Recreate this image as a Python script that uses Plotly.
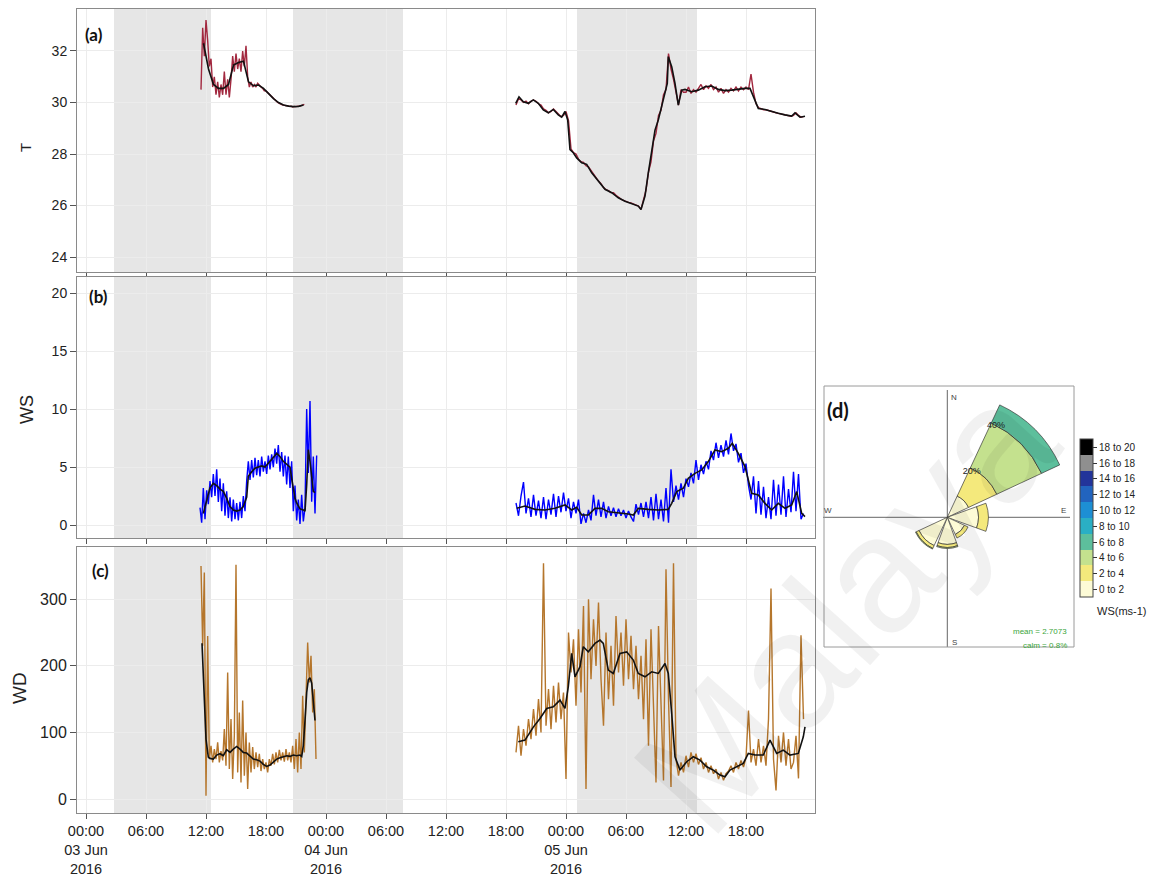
import numpy as np
import pandas as pd
import plotly.graph_objects as go

# ---------------------------------------------------------------------------
# Data (time in hours from 03 Jun 2016 00:00)
# ---------------------------------------------------------------------------
BASE = pd.Timestamp("2016-06-03 00:00")

# Temperature, first record: 10-min samples starting 11.5 h
T1_START, T1_STEP = 11.5, 1 / 6
T1_RAW = [
    30.5, 32.9, 31.8, 33.2, 32.4, 31.4, 31.7, 30.6, 31.0, 30.3, 30.8, 30.2,
    30.7, 30.3, 31.2, 30.3, 30.9, 30.2, 30.9, 31.8, 31.2, 31.9, 31.3, 31.7,
    31.2, 32.0, 31.4, 32.2, 31.0, 30.6, 30.8, 30.6, 30.7, 30.6, 30.75, 30.65,
    30.6, 30.55, 30.45, 30.45, 30.38, 30.32, 30.25, 30.2, 30.12, 30.05, 30.0, 29.97,
    29.93, 29.9, 29.9, 29.87, 29.88, 29.85, 29.86, 29.83, 29.85, 29.84, 29.86, 29.85,
    29.88, 29.9, 29.93,
]
T1_SMOOTH_H = [11.75, 12.25, 12.75, 13.25, 13.75, 14.25, 14.75, 15.25, 15.75, 16.25,
               16.75, 17.25, 17.75, 18.25, 18.75, 19.25, 19.75, 20.25, 20.75, 21.25, 21.75]
T1_SMOOTH = [32.3, 31.3, 30.7, 30.55, 30.55, 30.7, 31.45, 31.55, 31.6, 30.8,
             30.65, 30.68, 30.55, 30.35, 30.15, 30.0, 29.9, 29.86, 29.84, 29.85, 29.9]

# Temperature, second record: 15-min samples starting 43 h (one row per hour)
T2_START, T2_STEP = 43.0, 0.25
T2_RAW = [
    29.9, 30.15, 30.1, 30.0,
    30.05, 29.95, 30.05, 30.1,
    30.05, 29.95, 29.9, 29.75,
    29.7, 29.6, 29.65, 29.75,
    29.65, 29.55, 29.45, 29.5,
    29.65, 29.3, 28.2, 28.05,
    28.0, 27.8, 27.7, 27.68,
    27.55, 27.5, 27.35, 27.25,
    27.1, 26.95, 26.85, 26.7,
    26.62, 26.58, 26.5, 26.5,
    26.4, 26.32, 26.25, 26.2,
    26.15, 26.12, 26.1, 26.05,
    26.02, 25.98, 25.85, 26.2,
    26.6, 27.3, 27.7, 28.5,
    28.8, 29.5, 29.7, 30.3,
    30.5, 31.9, 31.3, 30.9,
    30.4, 29.9, 30.5, 30.4,
    30.4, 30.6, 30.35, 30.5,
    30.4, 30.55, 30.7, 30.5,
    30.65, 30.55, 30.7, 30.5,
    30.6, 30.4, 30.55, 30.35,
    30.5, 30.4, 30.55, 30.45,
    30.6, 30.45, 30.6, 30.5,
    30.6, 30.5, 31.1, 30.4,
    29.95, 29.8, 29.75, 29.72,
    29.72, 29.68, 29.65, 29.63,
    29.6, 29.58, 29.55, 29.54,
    29.52, 29.5, 29.47, 29.5,
    29.6, 29.5, 29.43, 29.45,
]
T2_SMOOTH_H = [42.97, 43.3, 43.73, 44.23, 44.73, 45.23, 45.73, 46.23, 46.73, 47.23,
               47.57, 47.9, 48.17, 48.4, 48.73, 49.07, 49.57, 50.07, 50.57, 51.23,
               51.9, 52.57, 53.23, 53.9, 54.57, 55.23, 55.5, 55.9, 56.23, 56.57,
               56.9, 57.23, 57.57, 57.9, 58.13, 58.23, 58.57, 58.9, 59.23, 59.57,
               59.9, 60.57, 61.23, 61.9, 62.57, 63.23, 63.9, 64.57, 65.23, 65.9,
               66.4, 66.73, 67.23, 67.9, 68.57, 69.23, 69.9, 70.57, 70.9, 71.4, 71.9]
T2_SMOOTH = [29.97, 30.22, 30.03, 29.97, 30.1, 29.97, 29.71, 29.6, 29.73, 29.52,
             29.43, 29.65, 29.32, 28.17, 28.05, 27.85, 27.66, 27.6, 27.27, 26.95,
             26.63, 26.5, 26.3, 26.17, 26.08, 25.98, 25.85, 26.37, 27.27, 28.17,
             28.93, 29.32, 29.84, 30.35, 30.74, 31.78, 31.39, 30.74, 29.9, 30.48,
             30.51, 30.42, 30.48, 30.61, 30.64, 30.51, 30.46, 30.48, 30.52, 30.55,
             30.55, 30.22, 29.77, 29.73, 29.64, 29.58, 29.52, 29.47, 29.6, 29.43, 29.47]

# Wind speed, first record: 10-min samples starting 11.4 h
WS1_START, WS1_STEP = 11.4, 1 / 6
WS1_RAW = [
    1.5, 0.2, 3.2, 0.5, 3.0, 1.8, 3.8, 2.4, 4.4, 2.5, 4.8, 2.0,
    4.0, 1.2, 3.6, 0.8, 2.9, 0.6, 2.4, 0.3, 2.2, 0.5, 1.9, 0.4,
    2.0, 0.6, 2.5, 1.2, 3.8, 5.5, 3.9, 5.6, 4.1, 5.8, 4.3, 5.6,
    4.2, 5.9, 4.6, 5.5, 4.4, 6.0, 4.8, 6.1, 5.0, 6.6, 5.3, 6.9,
    4.6, 6.3, 4.2, 6.0, 3.5, 5.9, 3.2, 5.5, 1.2, 3.4, 0.4, 2.2,
    0.1, 2.6, 0.3, 1.5, 10.0, 4.5, 10.7, 2.0, 5.9, 1.0, 6.0,
]
WS1_SMOOTH_H = [11.73, 12.07, 12.4, 12.73, 13.07, 13.4, 13.73, 14.07, 14.4, 14.73,
                15.07, 15.4, 15.73, 16.07, 16.23, 16.57, 16.9, 17.23, 17.57, 17.9,
                18.23, 18.57, 18.9, 19.07, 19.4, 19.73, 20.07, 20.4, 20.57, 20.73,
                20.9, 21.07, 21.4, 21.73, 21.9, 22.07, 22.23, 22.4, 22.57, 22.73, 22.9]
WS1_SMOOTH = [1.0, 2.2, 3.2, 3.6, 3.4, 3.1, 2.9, 2.3, 1.6, 1.3,
              1.2, 1.3, 1.6, 2.4, 4.2, 4.6, 4.9, 5.0, 5.1, 5.0,
              5.3, 5.7, 6.0, 6.2, 5.9, 5.5, 5.2, 5.0, 4.0, 3.2,
              2.3, 1.9, 1.4, 1.3, 1.2, 3.5, 6.5, 5.5, 4.0, 2.9, 2.8]

# Wind speed, second record: 15-min samples starting 43 h (one row per hour)
WS2_START, WS2_STEP = 43.0, 0.25
WS2_RAW = [
    1.9, 0.8, 2.5, 3.7,
    1.0, 2.3, 0.7, 2.6,
    0.8, 2.1, 0.6, 2.4,
    0.5, 2.2, 0.9, 2.7,
    0.7, 2.5, 1.1, 2.8,
    1.2, 2.3, 0.6, 2.0,
    1.0, 2.2, 0.1, 1.0,
    0.2, 1.3, 0.4, 2.6,
    0.8, 2.2, 0.7, 2.0,
    0.6, 1.6, 0.8, 1.5,
    0.7, 1.4, 0.8, 1.3,
    0.6, 1.2, 0.7, 0.3,
    1.8, 0.9, 1.9, 0.7,
    2.0, 0.6, 2.4, 0.4,
    2.7, 0.5, 2.2, 0.3,
    3.2, 0.2, 4.8, 2.0,
    3.4, 2.2, 3.6, 2.4,
    4.0, 3.3, 4.5, 3.6,
    5.6, 3.9, 5.2, 4.4,
    5.5, 4.8, 6.4, 5.6,
    7.1, 5.8, 6.9, 5.9,
    7.3, 6.1, 7.9, 6.4,
    7.0, 5.4, 6.2, 4.5,
    5.3, 3.4, 2.2, 4.2,
    1.0, 3.8, 0.9, 3.3,
    0.6, 2.4, 0.5, 3.9,
    0.8, 3.5, 0.9, 4.2,
    0.7, 3.1, 1.1, 4.6,
    1.2, 4.4, 0.5, 1.0,
]
WS2_SMOOTH_H = [43.07, 43.9, 44.9, 45.9, 46.9, 47.9, 48.57, 49.07, 49.57, 50.23,
                50.9, 51.57, 52.23, 53.23, 54.23, 54.73, 55.23, 56.23, 57.23, 58.23,
                58.57, 59.07, 59.73, 60.23, 60.9, 61.57, 62.23, 62.9, 63.57, 64.23,
                64.63, 65.23, 65.9, 66.57, 67.23, 67.9, 68.57, 69.23, 69.9, 70.57,
                71.07, 71.57, 71.9]
WS2_SMOOTH = [1.44, 1.64, 1.35, 1.3, 1.44, 1.73, 1.3, 1.53, 0.86, 0.86,
              1.44, 1.44, 1.15, 1.07, 0.95, 0.86, 1.44, 1.35, 1.3, 1.35,
              1.87, 2.88, 3.17, 4.03, 4.46, 4.75, 5.47, 6.48, 6.33, 6.62,
              7.05, 6.19, 5.04, 2.73, 2.59, 1.87, 1.3, 1.87, 1.44, 1.73,
              2.88, 1.0, 0.72]

# Wind direction, first record: 10-min samples starting 11.5 h
WD1_START, WD1_STEP = 11.5, 1 / 6
WD1_RAW = [
    350, 230, 340, 5, 245, 60, 80, 55, 75, 60, 85, 55,
    72, 58, 105, 50, 190, 45, 120, 30, 95, 352, 40, 130,
    25, 148, 35, 100, 15, 85, 40, 78, 45, 70, 48, 68,
    42, 60, 45, 55, 40, 60, 50, 68, 52, 70, 55, 74,
    58, 70, 56, 75, 58, 70, 55, 80, 45, 90, 40, 100,
    45, 155, 70, 140, 235, 175, 215, 130, 165, 60,
]
WD1_SMOOTH_H = [11.6, 11.83, 12.0, 12.23, 12.4, 12.73, 13.07, 13.4, 13.73, 14.07,
                14.4, 14.73, 15.07, 15.4, 15.73, 16.07, 16.4, 16.73, 17.07, 17.4,
                17.73, 18.07, 18.4, 18.73, 19.07, 19.4, 19.73, 20.07, 20.4, 20.73,
                21.07, 21.4, 21.57, 21.73, 21.9, 22.07, 22.23, 22.4, 22.57, 22.73, 22.9]
WD1_SMOOTH = [234, 150, 90, 63, 61, 60, 66, 68, 65, 74,
              70, 75, 79, 75, 70, 69, 64, 60, 59, 57,
              52, 49, 51, 56, 60, 62, 64, 65, 64, 66,
              65, 66, 64, 80, 118, 160, 179, 182, 174, 145, 118]

# Wind direction, second record: 15-min samples starting 43 h (one row per hour)
WD2_START, WD2_STEP = 43.0, 0.25
WD2_RAW = [
    70, 110, 65, 105,
    80, 120, 90, 135,
    95, 150, 100, 354,
    110, 165, 105, 170,
    115, 175, 120, 160,
    30, 250, 190, 240,
    140, 255, 160, 290,
    15, 300, 180, 270,
    200, 295, 180, 110,
    250, 150, 230, 140,
    275, 190, 250, 170,
    270, 180, 245, 165,
    230, 150, 215, 120,
    240, 80, 255, 120,
    25, 260, 130, 28,
    345, 150, 18, 354,
    60, 35, 55, 40,
    65, 48, 70, 55,
    68, 52, 62, 45,
    55, 40, 50, 38,
    45, 30, 40, 28,
    38, 42, 50, 40,
    55, 45, 58, 48,
    62, 133, 55, 75,
    50, 90, 55, 80,
    50, 120, 316, 60,
    13, 95, 55, 100,
    50, 90, 45, 55,
    95, 31, 246, 120,
]
WD2_SMOOTH_H = [43.23, 43.9, 44.73, 45.4, 46.07, 46.73, 47.4, 47.9, 48.23, 48.57,
                48.9, 49.4, 49.73, 50.23, 50.9, 51.4, 51.73, 52.23, 52.73, 53.4,
                54.07, 54.73, 55.23, 55.9, 56.57, 57.23, 57.9, 58.23, 58.57, 58.9,
                59.4, 60.07, 60.73, 61.4, 62.07, 62.73, 63.4, 63.9, 64.4, 65.07,
                65.73, 66.23, 66.9, 67.73, 68.4, 69.07, 69.73, 70.4, 71.23, 71.73, 71.9]
WD2_SMOOTH = [86, 88.5, 108, 121, 136, 138.5, 148.6, 136, 168.6, 218.7,
              183.6, 198.7, 228.7, 221, 233.7, 238.7, 233.7, 193.6, 188.6, 218.7,
              221, 208.7, 188.6, 183.6, 191, 188.6, 203.6, 188.6, 128.5, 63.4,
              43.4, 56, 63.4, 58.4, 48.4, 43.4, 35.9, 33.4, 43.4, 48.4,
              53.4, 68.5, 66, 66, 88.5, 68.5, 73.5, 66, 68.5, 93.5, 108.5]

# Shaded periods (hours)
SHADE_START = [2.8, 20.7, 49.1]
SHADE_END = [12.5, 31.7, 61.1]

# Wind rose: frequency (%) by direction and speed band
ROSE_DIRS = [45, 90, 135, 180, 225]
ROSE_BANDS = {
    "0 to 2": [9.0, 12.0, 7.3, 10.4, 12.0],
    "2 to 4": [12.0, 3.8, 1.5, 1.2, 1.2],
    "4 to 6": [19.0, 0.0, 0.0, 0.4, 0.3],
    "6 to 8": [7.7, 0.0, 0.0, 0.0, 0.0],
}
WS_CLASSES = ["0 to 2", "2 to 4", "4 to 6", "6 to 8", "8 to 10",
              "10 to 12", "12 to 14", "14 to 16", "16 to 18", "18 to 20"]
WS_CLASS_MID = [1, 3, 5, 7, 9, 11, 13, 15, 17, 19]
WS_COLOURS = ["#fdfbd6", "#f4e97c", "#c4e18e", "#5dbf9c", "#2aafc4",
              "#1d8fd4", "#2264bf", "#23349a", "#8f8f8f", "#000000"]

TICK_H = [0, 6, 12, 18, 24, 30, 36, 42, 48, 54, 60, 66]
TICK_TEXT = ["00:00<br>03 Jun<br>2016", "06:00", "12:00", "18:00",
             "00:00<br>04 Jun<br>2016", "06:00", "12:00", "18:00",
             "00:00<br>05 Jun<br>2016", "06:00", "12:00", "18:00"]

# ---------------------------------------------------------------------------
# Helpers
# ---------------------------------------------------------------------------
W, H = 1154, 877
FONT = "Liberation Sans"


def px(x):
    return x / W


def py(y):
    return 1 - y / H


def hours_to_time(h):
    return BASE + pd.to_timedelta(np.asarray(h, dtype=float), unit="h")


def regular_times(start, step, n):
    return hours_to_time(start + step * np.arange(n))


fig = go.Figure()


def add_pair(raw_start, raw_step, raw, sm_h, sm, colour, xa, ya):
    fig.add_trace(go.Scatter(
        x=regular_times(raw_start, raw_step, len(raw)), y=raw, mode="lines",
        line=dict(color=colour, width=1.4), xaxis=xa, yaxis=ya, showlegend=False,
        hoverinfo="skip"))
    fig.add_trace(go.Scatter(
        x=hours_to_time(sm_h), y=sm, mode="lines",
        line=dict(color="#111111", width=1.6), xaxis=xa, yaxis=ya,
        showlegend=False, hoverinfo="skip"))


RED, BLUE, BROWN = "#a2283f", "#0000ff", "#b5762c"
add_pair(T1_START, T1_STEP, T1_RAW, T1_SMOOTH_H, T1_SMOOTH, RED, "x", "y")
add_pair(T2_START, T2_STEP, T2_RAW, T2_SMOOTH_H, T2_SMOOTH, RED, "x", "y")
add_pair(WS1_START, WS1_STEP, WS1_RAW, WS1_SMOOTH_H, WS1_SMOOTH, BLUE, "x2", "y2")
add_pair(WS2_START, WS2_STEP, WS2_RAW, WS2_SMOOTH_H, WS2_SMOOTH, BLUE, "x2", "y2")
add_pair(WD1_START, WD1_STEP, WD1_RAW, WD1_SMOOTH_H, WD1_SMOOTH, BROWN, "x3", "y3")
add_pair(WD2_START, WD2_STEP, WD2_RAW, WD2_SMOOTH_H, WD2_SMOOTH, BROWN, "x3", "y3")

# Wind rose bars
for i, (name, vals) in enumerate(ROSE_BANDS.items()):
    fig.add_trace(go.Barpolar(
        r=vals, theta=ROSE_DIRS, width=[40] * len(vals), name=name,
        marker=dict(color=[WS_CLASS_MID[i]] * len(vals), coloraxis="coloraxis",
                    line=dict(color="rgba(50,50,50,0.85)", width=0.8)),
        subplot="polar", showlegend=False, hoverinfo="skip"))

fig.add_trace(go.Scatterpolar(
    r=[20, 40], theta=[28, 28], mode="text", text=["20%", "40%"],
    textfont=dict(size=9, color="#222", family=FONT), subplot="polar",
    showlegend=False, hoverinfo="skip"))

# Discrete colour scale for the speed classes
scale = []
for i, c in enumerate(WS_COLOURS):
    scale.append([i / 10, c])
    scale.append([(i + 1) / 10, c])

# ---------------------------------------------------------------------------
# Layout
# ---------------------------------------------------------------------------
XDOM = [px(77), px(815)]
XRANGE = [hours_to_time(-0.9).strftime("%Y-%m-%d %H:%M:%S"),
          hours_to_time(72.9).strftime("%Y-%m-%d %H:%M:%S")]
TICKVALS = [t.strftime("%Y-%m-%d %H:%M:%S") for t in hours_to_time(TICK_H)]
AX_LINE = "#8a8a8a"
GRID = "#ececec"


def xaxis(anchor, labels):
    return dict(domain=XDOM, anchor=anchor, type="date", range=XRANGE,
                tickvals=TICKVALS, ticktext=TICK_TEXT, showticklabels=labels,
                ticks="outside", ticklen=5, tickcolor="#555", automargin=False,
                showline=True, mirror=True, linecolor=AX_LINE, linewidth=1,
                showgrid=True, gridcolor=GRID, zeroline=False,
                tickfont=dict(family=FONT, size=14.5, color="#222"))


def yaxis(anchor, dom, rng, vals, size):
    return dict(domain=dom, anchor=anchor, range=rng, tickvals=vals,
                ticks="outside", ticklen=6, tickcolor="#555", automargin=False,
                showline=True, mirror=True, linecolor=AX_LINE, linewidth=1,
                showgrid=True, gridcolor=GRID, zeroline=False,
                tickfont=dict(family=FONT, size=size, color="#222"))


shapes = []
for xa, ya in (("x", "y"), ("x2", "y2"), ("x3", "y3")):
    for s, e in zip(SHADE_START, SHADE_END):
        shapes.append(dict(type="rect", xref=xa, yref=f"{ya} domain",
                           x0=hours_to_time(s), x1=hours_to_time(e), y0=0, y1=1,
                           fillcolor="#e6e6e6", line=dict(width=0), layer="below"))

# wind rose frame and compass cross
CX, CY = 947.3, 517.3
shapes.append(dict(type="rect", xref="paper", yref="paper", x0=px(824), x1=px(1074),
                   y0=py(647), y1=py(386), line=dict(color="#9a9a9a", width=1)))
shapes.append(dict(type="line", xref="paper", yref="paper", x0=px(CX), x1=px(CX),
                   y0=py(390), y1=py(647), line=dict(color="#666", width=1), layer="below"))
shapes.append(dict(type="line", xref="paper", yref="paper", x0=px(823), x1=px(1070),
                   y0=py(CY), y1=py(CY), line=dict(color="#666", width=1), layer="below"))


def note(x, y, text, size, colour="#222", family=FONT, xanchor="center", angle=0):
    return dict(x=px(x), y=py(y), xref="paper", yref="paper", text=text,
                showarrow=False, xanchor=xanchor, yanchor="middle", textangle=angle,
                font=dict(family=family, size=size, color=colour))


annotations = [
    note(94, 34, "<b>(a)</b>", 17, "#111", "Lato"),
    note(98, 297, "<b>(b)</b>", 17, "#111", "Lato"),
    note(100, 570, "<b>(c)</b>", 17, "#111", "Lato"),
    note(838, 410, "<b>(d)</b>", 20, "#111", "Lato"),
    note(25, 148, "T", 15, angle=-90),
    note(27, 410, "WS", 18, angle=-90),
    note(19, 688, "WD", 19, angle=-90),
    note(954, 397, "N", 8, "#444"),
    note(954, 642, "S", 8, "#444"),
    note(828, 510, "W", 8, "#444"),
    note(1063, 510, "E", 8, "#444"),
    note(1069, 631, "mean = 2.7073", 8, "#3aa53a", xanchor="right"),
    note(1069, 645, "calm = 0.8%", 8, "#3aa53a", xanchor="right"),
    note(1095, 611, "WS(ms-1)", 11, "#222", xanchor="left"),
    note(845, 608, "Malaya", 165, "rgba(0,0,0,0.055)", angle=-48),
]

fig.update_layout(
    width=W, height=H, margin=dict(l=0, r=0, t=0, b=0, autoexpand=False),
    paper_bgcolor="white", plot_bgcolor="white", showlegend=False,
    xaxis=xaxis("y", False), xaxis2=xaxis("y2", False), xaxis3=xaxis("y3", True),
    yaxis=yaxis("x", [py(272), py(9)], [23.42, 33.63], [24, 26, 28, 30, 32], 14),
    yaxis2=yaxis("x2", [py(538), py(277)], [-1.12, 21.4], [0, 5, 10, 15, 20], 14),
    yaxis3=yaxis("x3", [py(813), py(547)], [-21, 378.5], [0, 100, 200, 300], 16),
    polar=dict(
        domain=dict(x=[px(CX - 130), px(CX + 130)], y=[py(CY + 130), py(CY - 130)]),
        bgcolor="rgba(0,0,0,0)", barmode="stack",
        angularaxis=dict(direction="clockwise", rotation=90, showgrid=False,
                         showline=False, showticklabels=False, ticks=""),
        radialaxis=dict(range=[0, 50], showgrid=False, showline=False,
                        showticklabels=False, ticks=""),
    ),
    coloraxis=dict(
        cmin=0, cmax=20, colorscale=scale,
        colorbar=dict(x=px(1079.7), xanchor="left", xpad=0, y=py(518.3),
                      yanchor="middle", ypad=0, len=158, lenmode="pixels",
                      thickness=13, thicknessmode="pixels",
                      tickvals=WS_CLASS_MID, ticktext=WS_CLASSES,
                      ticks="outside", ticklen=4, tickcolor="#333",
                      tickfont=dict(family=FONT, size=10, color="#222"),
                      outlinewidth=1, outlinecolor="#444"),
    ),
    shapes=shapes, annotations=annotations,
)

fig.write_html("out.html")
